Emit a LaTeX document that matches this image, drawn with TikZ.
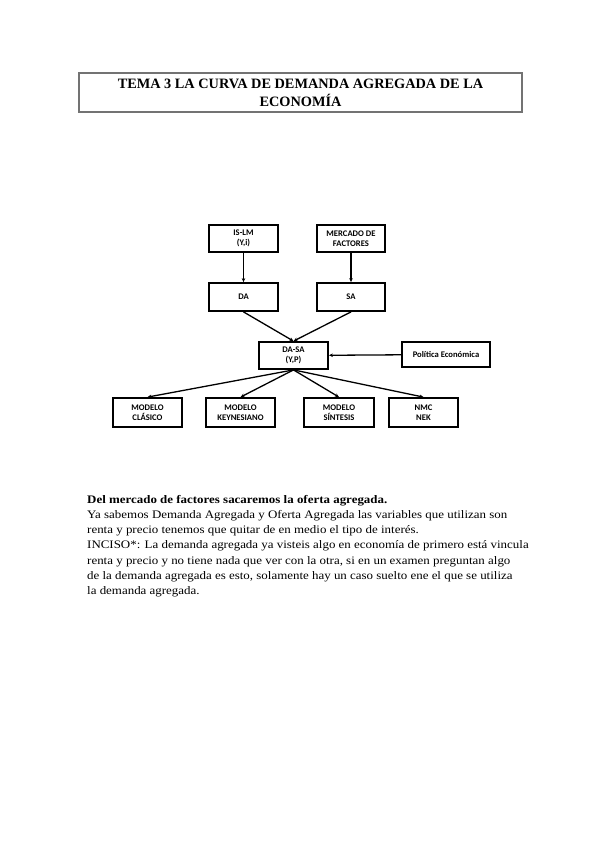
\documentclass[tikz,border=0pt]{standalone}
\usepackage{fontspec}
\setmainfont{Liberation Serif}
\newfontfamily\boxfont{Carlito}
\newfontfamily\bodyfont[FakeStretch=1.125]{Liberation Serif}
\usetikzlibrary{arrows.meta}
\begin{document}
\begin{tikzpicture}[x=1pt,y=-1pt,
  box/.style={draw=black,line width=1.8pt,inner sep=0pt,align=center,
    font=\boxfont\bfseries\fontsize{8.6}{9.5}\selectfont,minimum height=27pt},
  conn/.style={line width=1.3pt,-{Stealth[length=4pt,width=3.5pt]}},
  bodyline/.style={anchor=base west,inner sep=0pt,font=\bodyfont\fontsize{11.5}{13}\selectfont}]
\useasboundingbox[fill=white] (0,0) rectangle (599,848);
% title
\node[draw=black!55,line width=1.5pt,minimum width=443pt,minimum height=39pt,inner sep=0pt] (title) at (300.5,92.5) {};
\node[anchor=base,inner sep=0pt,font=\bfseries\fontsize{14.3}{16}\selectfont] (t1) at (300.5,88.5) {TEMA 3 LA CURVA DE DEMANDA AGREGADA DE LA};
\node[anchor=base,inner sep=0pt,font=\bfseries\fontsize{14.3}{16}\selectfont] (t2) at (300.5,106.5) {ECONOMÍA};
% diagram
\node[box,minimum width=69pt] (islm) at (243.5,238.5) {IS-LM\\(Y,i)};
\node[box,minimum width=68pt] (merc) at (351,238.5) {MERCADO DE\\FACTORES};
\node[box,minimum width=69pt,minimum height=28pt] (da) at (243.5,297) {DA};
\node[box,minimum width=68pt,minimum height=28pt] (sa) at (351,297) {SA};
\node[box,minimum width=69pt] (dasa) at (293.5,355.5) {DA-SA\\(Y,P)};
\node[box,minimum width=88pt,minimum height=25pt] (pol) at (446,354.5) {Política Económica};
\node[box,minimum width=69pt,minimum height=29pt] (cla) at (147.5,412.5) {MODELO\\CLÁSICO};
\node[box,minimum width=69pt,minimum height=29pt] (key) at (240.5,412.5) {MODELO\\KEYNESIANO};
\node[box,minimum width=70pt,minimum height=29pt] (sin) at (339,412.5) {MODELO\\SÍNTESIS};
\node[box,minimum width=69pt,minimum height=29pt] (nmc) at (423.5,412.5) {NMC\\NEK};
\draw[conn] (islm) -- (da);
\draw[conn] (merc) -- (sa);
\draw[conn] (da.south) -- (dasa.north);
\draw[conn] (sa.south) -- (dasa.north);
\draw[conn] (pol) -- (dasa);
\draw[conn] (dasa.south) -- (cla.north);
\draw[conn] (dasa.south) -- (key.north);
\draw[conn] (dasa.south) -- (sin.north);
\draw[conn] (dasa.south) -- (nmc.north);
% body text
\node[bodyline,font=\bodyfont\bfseries\fontsize{11.5}{13}\selectfont] (l1) at (87,503) {Del mercado de factores sacaremos la oferta agregada.};
\node[bodyline] (l2) at (87,518.5) {Ya sabemos Demanda Agregada y Oferta Agregada las variables que utilizan son};
\node[bodyline] (l3) at (87,533.7) {renta y precio tenemos que quitar de en medio el tipo de interés.};
\node[bodyline] (l4) at (87,548.8) {INCISO*: La demanda agregada ya visteis algo en economía de primero está vincula};
\node[bodyline] (l5) at (87,564) {renta y precio y no tiene nada que ver con la otra, si en un examen preguntan algo};
\node[bodyline] (l6) at (87,579) {de la demanda agregada es esto, solamente hay un caso suelto ene el que se utiliza};
\node[bodyline] (l7) at (87,594) {la demanda agregada.};
\end{tikzpicture}
\end{document}
